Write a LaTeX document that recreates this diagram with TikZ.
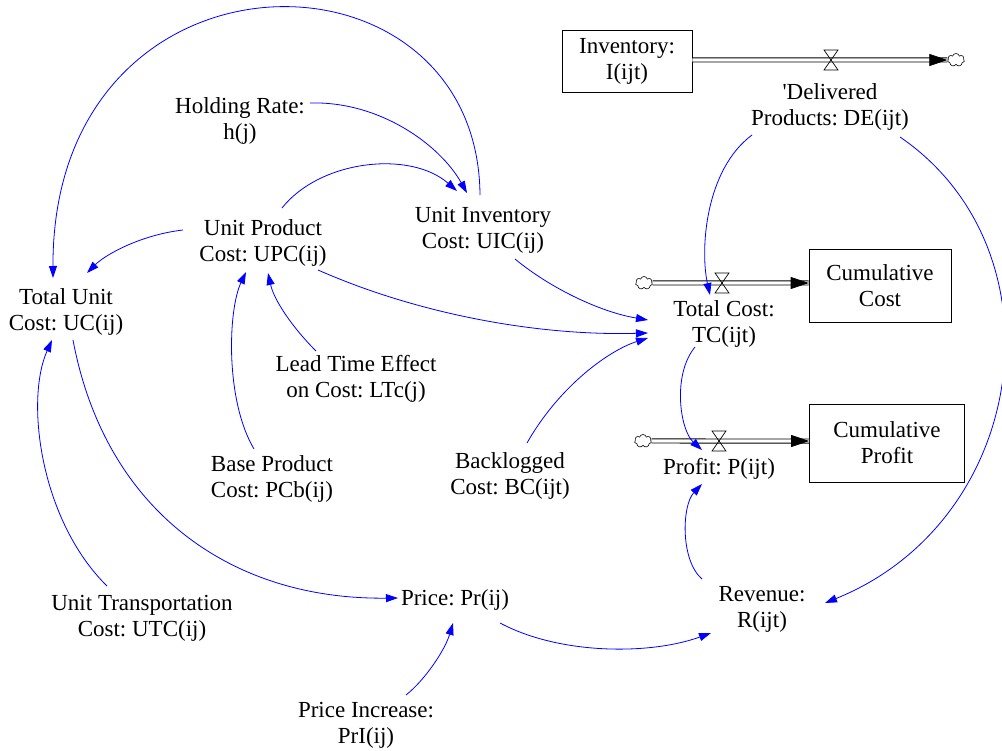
\documentclass[tikz,border=0pt]{standalone}
\usepackage{fontspec}
\setmainfont{Liberation Serif}
\usetikzlibrary{arrows.meta}
\usetikzlibrary{calc}
\usetikzlibrary{shapes.symbols}
\frenchspacing
\tikzstyle{var}=[align=center, inner sep=2pt]
\tikzstyle{stock}=[rectangle, draw, line width=0.7pt, fill=white, align=center, inner sep=2pt]
\tikzstyle{src}=[cloud, draw, line width=0.6pt, cloud puffs=7, aspect=1.4, minimum width=17pt, minimum height=13pt, inner sep=0pt]
\tikzstyle{pipe}=[draw, line width=0.9pt, double, double distance=3.2pt]
\tikzstyle{pipetip}=[line width=0.7pt, -{Triangle[length=18pt,width=12pt]}]
\tikzstyle{valve}=[draw, line width=0.7pt]
\tikzstyle{link}=[draw=blue, line width=0.8pt, -{Triangle[length=12pt,width=8pt]}, blue]

\begin{document}
\begin{tikzpicture}[x=1pt, y=-1pt, font=\fontsize{23}{26}\selectfont]
	\useasboundingbox (0,0) rectangle (1002,751);
	
	%The stocks
	\node[stock, minimum width=130pt, minimum height=62pt] (inv) at (627,61) {Inventory:\\I(ijt)};
	\node[stock, minimum width=142pt, minimum height=73pt] (ccost) at (880,286) {Cumulative\\Cost};
	\node[stock, minimum width=155pt, minimum height=78pt] (cprof) at (887,443) {Cumulative\\Profit};
	
	%The clouds and valves
	\node[src] (c1) at (956,60) {};
	\node[src] (c2) at (644,283) {};
	\node[src] (c3) at (643,441) {};
	\coordinate (v1) at (831,60);
	\coordinate (v2) at (722,283);
	\coordinate (v3) at (719,441);
	
	%The flows
	\draw[pipe] (inv.east |- v1) -- (c1.west);
	\draw[pipetip] ($(c1.west)+(-2,0)$) -- (c1.west);
	\draw[pipe] (c2.east) -- (ccost.west |- v2);
	\draw[pipetip] ($(ccost.west |- v2)+(-2,0)$) -- (ccost.west |- v2);
	\draw[pipe] (c3.east) -- (cprof.west |- v3);
	\draw[pipetip] ($(cprof.west |- v3)+(-2,0)$) -- (cprof.west |- v3);
	\foreach \v in {v1,v2,v3}
		\draw[valve] (\v) ++(-7,-10) -- ++(14,0) -- ++(-14,20) -- ++(14,0) -- cycle;
	
	%The variables
	\node[var] (de) at (830,107) {\textquotesingle Delivered\\Products: DE(ijt)};
	\node[var] (hold) at (240,121) {Holding Rate:\\h(j)};
	\node[var] (upc) at (263,243) {Unit Product\\Cost: UPC(ij)};
	\node[var] (uic) at (483,230) {Unit Inventory\\Cost: UIC(ij)};
	\node[var] (uc) at (66,312) {Total Unit\\Cost: UC(ij)};
	\node[var] (ltc) at (356,379) {Lead Time Effect\\on Cost: LTc(j)};
	\node[var] (pcb) at (272,479) {Base Product\\Cost: PCb(ij)};
	\node[var] (bc) at (510,476) {Backlogged\\Cost: BC(ijt)};
	\node[var] (tc) at (724,324) {Total Cost:\\TC(ijt)};
	\node[var] (prof) at (719,469) {Profit: P(ijt)};
	\node[var] (rev) at (762,609) {Revenue:\\R(ijt)};
	\node[var] (price) at (455,600) {Price: Pr(ij)};
	\node[var] (utc) at (142,618) {Unit Transportation\\Cost: UTC(ij)};
	\node[var] (pri) at (366,725) {Price Increase:\\PrI(ij)};
	
	%The links
	\draw[link] ($(uic)+(-3,-35)$) .. controls (478,-67) and (52,-67) .. ($(uc)+(-13,-34)$);
	\draw[link] ($(hold)+(70,-18)$) .. controls (380,101) and (440,145) .. ($(uic)+(-16,-37)$);
	\draw[link] ($(upc)+(19,-35)$) .. controls (320,160) and (410,150) .. ($(uic)+(-26,-39)$);
	\draw[link] ($(upc)+(-80,-13)$) .. controls (140,235) and (105,255) .. ($(uc)+(21,-39)$);
	\draw[link] ($(pcb)+(-18,-30)$) .. controls (225,400) and (228,310) .. ($(upc)+(-17,29)$);
	\draw[link] ($(ltc)+(-40,-28)$) .. controls (292,327) and (274,300) .. ($(upc)+(5,30)$);
	\draw[link] ($(upc)+(55,27)$) .. controls (420,315) and (540,336) .. ($(tc)+(-76,9)$);
	\draw[link] ($(uic)+(32,29)$) .. controls (550,288) and (600,312) .. ($(tc)+(-76,-4)$);
	\draw[link] ($(bc)+(17,-33)$) .. controls (560,385) and (610,350) .. ($(tc)+(-76,14)$);
	\draw[link] ($(de)+(-78,28)$) .. controls (705,170) and (700,250) .. ($(tc)+(-14,-29)$);
	\draw[link] ($(tc)+(-29,23)$) .. controls (672,375) and (680,430) .. ($(prof)+(-17,-19)$);
	\draw[link] ($(de)+(70,30)$) .. controls (1065,250) and (1030,520) .. ($(rev)+(63,-6)$);
	\draw[link] ($(rev)+(-60,-30)$) .. controls (680,560) and (682,505) .. ($(prof)+(-17,15)$);
	\draw[link] ($(price)+(45,23)$) .. controls (560,655) and (650,655) .. ($(rev)+(-51,24)$);
	\draw[link] ($(pri)+(40,-30)$) .. controls (425,680) and (445,650) .. ($(price)+(-2,23)$);
	\draw[link] ($(uc)+(7,28)$) .. controls (105,510) and (230,600) .. ($(price)+(-57,-2)$);
	\draw[link] ($(utc)+(-35,-32)$) .. controls (40,520) and (25,400) .. ($(uc)+(-14,28)$);
\end{tikzpicture}
\end{document}
